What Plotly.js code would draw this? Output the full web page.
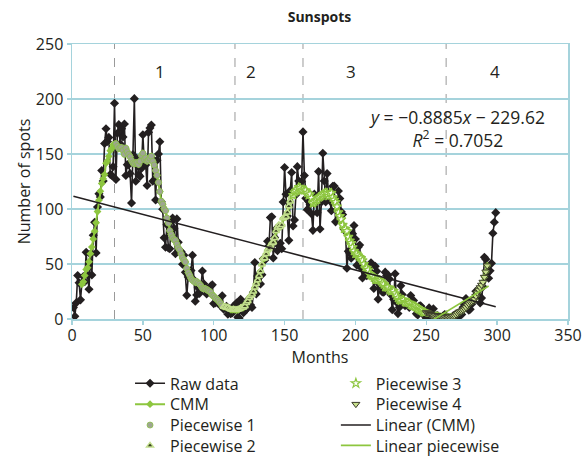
<!DOCTYPE html>
<html>
<head>
<meta charset="utf-8">
<script src="https://cdn.plot.ly/plotly-3.0.1.min.js"></script>
<style>html,body{margin:0;padding:0;background:#fff;}#chart{width:582px;height:472px;}</style>
</head>
<body>
<div id="chart"></div>
<script>
// Monthly sunspot numbers, month 1 .. 299
const rawData = [
10.4,2.4,14.7,39.6,33.0,17.4,33.0,38.7,33.9,60.6,39.9,27.1,
59.0,40.0,76.2,88.0,60.1,101.8,113.8,111.0,134.9,125.5,159.6,173.0,
161.3,165.1,131.4,130.6,138.5,196.2,126.9,168.9,176.7,159.4,173.0,165.5,
177.3,130.5,140.3,140.3,132.2,105.4,149.4,200.3,125.2,145.5,131.4,129.7,
136.9,167.5,141.9,140.0,121.3,169.7,173.7,176.3,125.3,144.1,108.2,144.4,
150.0,161.1,106.7,99.8,73.8,65.2,85.7,64.5,63.9,88.7,91.8,82.6,
59.3,91.0,69.8,62.2,61.3,49.8,57.9,42.4,21.5,38.2,41.2,44.0,
57.9,35.6,16.1,21.9,28.3,23.3,30.1,43.6,32.1,29.3,22.8,26.5,
24.2,29.9,31.1,14.0,14.5,15.6,14.5,14.3,11.8,21.1,9.0,10.0,
11.5,4.4,9.2,4.8,5.5,11.8,8.2,14.4,1.6,0.9,17.9,13.3,
5.7,7.6,8.7,15.5,18.5,12.7,10.4,24.4,51.3,22.8,39.0,41.2,
31.9,40.3,54.8,53.4,56.3,70.7,66.6,92.2,92.9,55.5,74.0,81.9,
62.0,66.3,68.9,63.9,106.4,137.7,113.5,93.7,71.5,116.7,133.2,84.6,
90.1,112.9,138.5,125.5,121.6,124.9,170.1,130.5,109.7,99.4,106.8,104.4,
95.6,80.6,113.5,107.7,96.6,134.0,81.8,106.4,150.7,125.5,106.5,132.2,
114.1,107.4,98.4,120.7,120.8,88.3,99.6,116.4,109.6,97.5,95.0,81.6,
79.5,46.2,61.5,60.0,55.2,77.4,85.0,72.7,48.8,65.5,67.3,46.5,
37.3,45.8,49.1,39.3,41.5,43.2,51.1,40.9,27.7,48.0,43.5,17.9,
31.3,29.2,24.5,24.4,42.6,39.6,39.9,36.4,22.1,8.5,18.0,41.2,
15.3,4.9,10.6,30.2,22.3,13.9,12.2,12.9,14.4,10.5,21.4,13.6,
16.9,10.6,4.8,3.7,11.7,12.0,10.0,6.2,2.4,0.9,1.7,10.1,
3.3,2.1,9.3,2.9,2.9,3.1,0.5,0.5,1.1,2.9,4.1,0.8,
1.5,1.4,0.7,1.2,2.9,2.6,3.5,0.0,4.2,4.6,4.2,10.6,
13.1,18.6,15.4,7.9,8.8,13.5,16.1,19.6,25.2,23.5,21.6,14.5,
19.0,29.4,56.2,54.4,41.6,37.0,43.9,50.6,78.0,88.0,96.7
];
const rawStart = 1;

// Centered moving mean, months 7 .. 293
const cmm = [
31.5,33.8,39.5,45.1,46.7,52.0,59.4,65.4,72.8,79.8,
87.5,97.7,108.0,116.2,123.2,127.4,131.3,141.7,143.7,147.9,
153.0,154.9,158.5,159.0,159.3,156.9,155.0,155.7,155.8,153.3,
149.7,155.3,152.0,149.6,147.4,144.1,141.9,141.1,142.0,142.0,
140.5,143.4,148.7,150.7,145.0,146.4,143.5,144.5,146.1,148.0,
143.3,140.0,135.0,130.6,124.2,115.8,107.1,104.3,100.3,98.3,
91.8,87.2,80.2,76.8,73.8,72.0,71.4,68.1,64.8,62.8,
59.2,55.5,53.6,51.8,46.0,42.3,39.7,36.8,35.3,34.2,
33.4,34.0,32.8,31.7,30.1,28.0,27.6,27.5,26.9,25.9,
25.2,24.0,21.6,20.7,19.2,18.2,17.0,15.5,13.9,11.9,
11.2,11.0,10.5,10.5,9.5,8.6,8.4,8.7,8.4,8.1,
8.4,8.9,10.0,10.5,10.4,11.7,14.5,16.1,19.1,20.9,
22.3,24.9,28.6,32.0,35.2,39.2,43.3,49.6,54.9,55.2,
59.1,62.4,64.0,66.7,68.9,69.6,73.7,79.9,83.2,85.3,
83.7,85.5,91.5,92.3,93.0,96.9,102.4,106.8,111.2,112.6,
115.1,116.4,117.7,119.8,119.1,116.8,117.7,117.0,117.0,114.6,
112.4,113.4,110.1,105.2,106.7,107.9,108.5,110.4,111.2,112.1,
113.4,114.0,115.0,114.4,111.7,114.4,114.6,110.5,108.2,106.3,
102.2,97.0,93.5,90.5,85.5,82.1,81.9,79.8,74.6,71.2,
68.9,65.2,61.8,59.2,59.4,57.7,56.3,55.3,53.3,49.9,
46.5,46.4,44.7,40.9,39.7,39.1,37.5,35.6,35.8,35.7,
35.4,34.3,32.9,31.4,29.1,28.9,28.7,26.7,25.2,25.7,
25.5,23.3,21.2,19.1,17.4,16.5,17.5,17.2,15.3,15.0,
14.9,14.4,13.0,12.2,11.9,11.4,10.6,9.6,8.9,8.0,
7.3,6.1,6.0,5.9,5.8,5.1,4.3,3.5,3.1,3.2,
3.4,3.4,2.7,2.5,2.4,1.8,1.8,1.8,1.8,1.8,
2.1,2.3,2.4,2.9,3.9,5.2,6.3,6.8,7.4,8.2,
9.3,10.5,12.4,13.9,15.2,16.0,16.7,17.9,20.8,23.8,
26.4,28.6,30.9,33.6,38.1,42.9,48.5
];
const cmmStart = 7;

// Piecewise segments: [first month, last month]
const pieceRanges = [[31,106],[107,155],[156,249],[250,293]];

// Trend lines
const linearCmmX = [1, 299];
const linearCmmY = [111.6, 11.2];
const linearPieceX = [250, 294];
const linearPieceY = [-4.5, 30.0];

// Section boundaries and labels
const boundaries = [30, 115, 163, 264];
const sectionX = [62, 126, 197, 298.5];
const sectionLabels = ['1', '2', '3', '4'];
const sectionY = 225;

const eqText = '<i>y</i> = \u22120.8885<i>x</i> \u2212 229.62<br><i>R</i><sup>2</sup> = 0.7052';
const eqX = 272, eqY = 173;

const GREEN = '#8dc63f';
const AX = '#a5d3dc';
const INK = '#231f20';
const FONT = '"Open Sans", "Noto Sans", sans-serif';

function piece(i) {
  const a = pieceRanges[i][0], b = pieceRanges[i][1];
  return {x0: a, y: cmm.slice(a - cmmStart, b - cmmStart + 1)};
}

const p1 = piece(0), p2 = piece(1), p3 = piece(2), p4 = piece(3);

const traces = [
  {name: 'Raw data', type: 'scatter', mode: 'lines+markers', x0: rawStart, dx: 1, y: rawData,
   line: {color: INK, width: 1.6}, marker: {symbol: 'diamond', size: 7, color: INK}},
  {name: 'CMM', type: 'scatter', mode: 'lines+markers', x0: cmmStart, dx: 1, y: cmm,
   line: {color: GREEN, width: 2}, marker: {symbol: 'diamond', size: 6, color: GREEN}},
  {name: 'Piecewise 1', type: 'scatter', mode: 'markers', x0: p1.x0, dx: 1, y: p1.y,
   marker: {symbol: 'circle', size: 6, color: '#9ea592', line: {color: '#8cbf4a', width: 0.8}}},
  {name: 'Piecewise 2', type: 'scatter', mode: 'markers', x0: p2.x0, dx: 1, y: p2.y,
   marker: {symbol: 'triangle-up', size: 6, color: '#3a4220', line: {color: '#c2de8e', width: 1.5}}},
  {name: 'Piecewise 3', type: 'scatter', mode: 'markers', x0: p3.x0, dx: 1, y: p3.y,
   marker: {symbol: 'star', size: 7, color: '#ffffff', line: {color: GREEN, width: 1.2}}},
  {name: 'Piecewise 4', type: 'scatter', mode: 'markers', x0: p4.x0, dx: 1, y: p4.y,
   marker: {symbol: 'triangle-down', size: 7, color: '#c8e08c', line: {color: '#3a3a2a', width: 1}}},
  {name: 'Linear (CMM)', type: 'scatter', mode: 'lines', x: linearCmmX, y: linearCmmY,
   line: {color: INK, width: 1.6}},
  {name: 'Linear piecewise', type: 'scatter', mode: 'lines', x: linearPieceX, y: linearPieceY,
   line: {color: GREEN, width: 1.6}}
];

// one legend box per entry: two columns of four rows
const legendCols = [0.117, 0.532];
const legendRows = [-0.234, -0.310, -0.386, -0.460];
const legendLayout = {};
traces.forEach((t, i) => {
  const key = i === 0 ? 'legend' : 'legend' + (i + 1);
  t.legend = key;
  legendLayout[key] = {
    x: legendCols[Math.floor(i / 4)], y: legendRows[i % 4],
    xanchor: 'left', yanchor: 'middle', orientation: 'v',
    bgcolor: 'rgba(0,0,0,0)', borderwidth: 0, itemsizing: 'trace',
    font: {size: 16, color: INK, family: FONT}
  };
});

const shapes = boundaries.map(b => ({
  type: 'line', xref: 'x', yref: 'y', x0: b, x1: b, y0: 0, y1: 250,
  line: {color: '#9a9a9a', width: 1, dash: 'dash'}, layer: 'below'
}));

const annotations = sectionLabels.map((t, i) => ({
  text: t, x: sectionX[i], y: sectionY, xref: 'x', yref: 'y', showarrow: false,
  font: {size: 17, color: INK, family: FONT}
}));
annotations.push({text: eqText, x: eqX, y: eqY, xref: 'x', yref: 'y', showarrow: false,
  align: 'center', font: {size: 17.5, color: INK, family: FONT}});

const layout = Object.assign({
  width: 582, height: 472,
  margin: {l: 72, r: 14, t: 44, b: 153, pad: 0, autoexpand: false},
  paper_bgcolor: '#ffffff', plot_bgcolor: '#ffffff',
  font: {family: FONT, size: 16, color: INK},
  title: {text: '<b>Sunspots</b>', x: 0.549, xref: 'container', y: 0.964, yanchor: 'middle',
    font: {size: 14, family: FONT, color: INK}},
  xaxis: {range: [0, 350], tick0: 0, dtick: 50, showgrid: false, zeroline: false,
    showline: true, linecolor: AX, linewidth: 1.5, mirror: true,
    ticks: 'outside', ticklen: 4, tickcolor: AX, tickwidth: 1.5, ticklabelstandoff: -3,
    tickfont: {size: 16, family: FONT, color: INK},
    title: {text: 'Months', font: {size: 16, family: FONT, color: INK}, standoff: 0}},
  yaxis: {range: [0, 250], tick0: 0, dtick: 50, showgrid: true, gridcolor: AX, gridwidth: 1.3,
    zeroline: false, showline: true, linecolor: AX, linewidth: 1.5, mirror: true,
    ticks: 'outside', ticklen: 4, tickcolor: AX, tickwidth: 1.5,
    tickfont: {size: 16, family: FONT, color: INK},
    title: {text: 'Number of spots', font: {size: 16, family: FONT, color: INK}, standoff: 1}},
  shapes: shapes,
  annotations: annotations,
  showlegend: true
}, legendLayout);

Plotly.newPlot('chart', traces, layout, {displayModeBar: false, staticPlot: true});
</script>
</body>
</html>
